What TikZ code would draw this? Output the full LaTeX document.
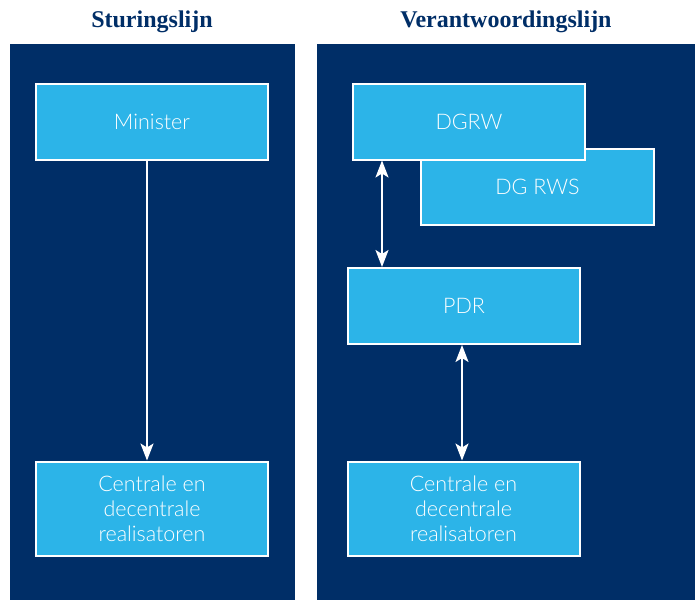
\documentclass[tikz,border=0pt]{standalone}
\usepackage{fontspec}
\setmainfont{Liberation Serif}
\setsansfont{Lato}[UprightFont=* Light]
\usetikzlibrary{arrows.meta}
\definecolor{navy}{HTML}{002E67}
\definecolor{sky}{HTML}{2CB4E8}
\tikzset{
  panel/.style={fill=navy, draw=none},
  orgbox/.style={draw=white, line width=2pt, fill=sky, minimum width=232pt, minimum height=76pt, inner sep=0pt, align=center, text=white, font=\sffamily\fontsize{21.5}{25}\selectfont},
  heading/.style={text=navy, font=\bfseries\fontsize{24}{28}\selectfont},
  link/.style={draw=white, line width=2pt},
  bigtip/.tip={Stealth[length=17pt, width=13pt, inset=4pt]}
}
\begin{document}
\begin{tikzpicture}[x=1pt, y=-1pt]
\useasboundingbox (0,0) rectangle (700,600);
\fill[white] (0,0) rectangle (700,600);
\fill[panel] (10,44) rectangle (295,600);
\fill[panel] (317,44) rectangle (695,600);
\node[heading] (h1) at (152,22) {Sturingslijn};
\node[heading] (h2) at (506,22) {Verantwoordingslijn};
\node[orgbox] (min) at (152,121.5) {Minister};
\node[orgbox, minimum height=94pt] (cl) at (152,508.5) {Centrale en\\decentrale\\realisatoren};
\node[orgbox, minimum width=233pt] (rws) at (537.5,187) {DG RWS};
\node[orgbox] (dgrw) at (469,121.5) {DGRW};
\node[orgbox] (pdr) at (464,306) {PDR};
\node[orgbox, minimum height=94pt] (cr) at (463.5,508.5) {Centrale en\\decentrale\\realisatoren};
\draw[link, -bigtip] (min.south -| 147,0) -- (cl.north -| 147,0);
\draw[link, bigtip-bigtip] (dgrw.south -| 382,0) -- (pdr.north -| 382,0);
\draw[link, bigtip-bigtip] (pdr.south -| 462,0) -- (cr.north -| 462,0);
\end{tikzpicture}
\end{document}
